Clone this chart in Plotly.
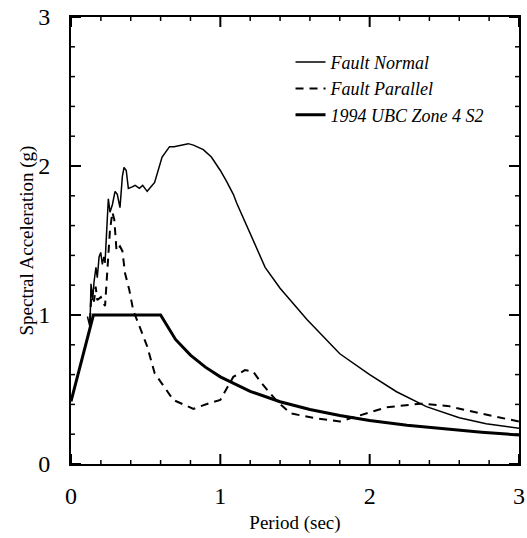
import plotly.graph_objects as go

# Fault Normal
fn_period = [0.11, 0.127, 0.134, 0.145, 0.154, 0.167, 0.176, 0.188, 0.199, 0.21, 0.22, 0.228,
             0.25, 0.261, 0.277, 0.295, 0.31, 0.328, 0.344, 0.355, 0.37, 0.384, 0.41, 0.43,
             0.458, 0.48, 0.51, 0.56, 0.61, 0.66, 0.69, 0.73, 0.785, 0.82, 0.886, 0.94, 1.0,
             1.04, 1.087, 1.11, 1.19, 1.3, 1.4, 1.58, 1.8, 2.0, 2.18, 2.38, 2.6, 2.78, 3.0]
fn_sa = [0.99, 0.92, 1.21, 1.10, 1.22, 1.32, 1.25, 1.39, 1.42, 1.34, 1.39, 1.35,
         1.78, 1.69, 1.74, 1.83, 1.81, 1.72, 1.93, 1.99, 1.97, 1.85, 1.86, 1.87,
         1.85, 1.87, 1.83, 1.89, 2.06, 2.13, 2.13, 2.14, 2.15, 2.14, 2.11, 2.06, 1.97,
         1.90, 1.81, 1.75, 1.57, 1.32, 1.18, 0.97, 0.74, 0.60, 0.485, 0.385, 0.31, 0.27, 0.24]

# Fault Parallel
fp_period = [0.127, 0.138, 0.154, 0.165, 0.176, 0.2, 0.228, 0.238, 0.261, 0.277, 0.29,
             0.305, 0.328, 0.344, 0.362, 0.39, 0.417, 0.46, 0.51, 0.56, 0.685, 0.82,
             0.93, 1.0, 1.087, 1.165, 1.22, 1.27, 1.38, 1.47, 1.62, 1.8, 1.94, 2.11,
             2.34, 2.52, 2.74, 3.0]
fp_sa = [0.96, 1.17, 1.09, 1.19, 1.10, 1.12, 1.06, 1.21, 1.57, 1.69, 1.64,
         1.43, 1.46, 1.43, 1.28, 1.17, 1.03, 0.92, 0.79, 0.61, 0.43, 0.37,
         0.41, 0.43, 0.585, 0.63, 0.62, 0.55, 0.42, 0.34, 0.31, 0.285, 0.33, 0.38,
         0.405, 0.39, 0.34, 0.285]

# 1994 UBC Zone 4 S2
ubc_period = [0.0, 0.15, 0.6, 0.7, 0.8, 0.9, 1.0, 1.2, 1.4, 1.6, 1.8, 2.0, 2.25, 2.5, 2.75, 3.0]
ubc_sa = [0.42, 1.0, 1.0, 0.836, 0.731, 0.65, 0.585, 0.4875, 0.418, 0.366, 0.325, 0.2925,
          0.26, 0.234, 0.213, 0.195]

# axis ticks (same for both axes)
major_ticks = [0, 1, 2, 3]
minor_ticks = [0.2, 0.4, 0.6, 0.8, 1.2, 1.4, 1.6, 1.8, 2.2, 2.4, 2.6, 2.8]
axis_range = [0, 3]

serif = "Liberation Serif"

fig = go.Figure()
fig.add_trace(go.Scatter(x=fn_period, y=fn_sa, mode="lines", name="<i>Fault Normal</i>",
                         line=dict(color="black", width=1.5)))
fig.add_trace(go.Scatter(x=fp_period, y=fp_sa, mode="lines", name="<i>Fault Parallel</i>",
                         line=dict(color="black", width=2, dash="8px,6px")))
fig.add_trace(go.Scatter(x=ubc_period, y=ubc_sa, mode="lines", name="<i>1994 UBC Zone 4 S2</i>",
                         line=dict(color="black", width=3)))

axis_common = dict(
    range=axis_range, tickmode="array", tickvals=major_ticks,
    ticktext=[str(v) for v in major_ticks],
    showgrid=False, zeroline=False, showline=True, linecolor="black", linewidth=2,
    mirror=True, ticks="",
    tickfont=dict(family=serif, size=24, color="black"),
    automargin=False,
)

# inward-pointing tick marks on all four sides, placed via the axes' own scales
def add_ticks(values, length, width):
    for v in values:
        for side in (0, 1):
            sign = 1 if side == 0 else -1
            # x-axis ticks (bottom / top)
            fig.add_shape(type="line", xref="x", yref="paper", ysizemode="pixel",
                          yanchor=side, x0=v, x1=v, y0=0, y1=sign * length,
                          line=dict(color="black", width=width), layer="above")
            # y-axis ticks (left / right)
            fig.add_shape(type="line", xref="paper", yref="y", xsizemode="pixel",
                          xanchor=side, y0=v, y1=v, x0=0, x1=sign * length,
                          line=dict(color="black", width=width), layer="above")

add_ticks(major_ticks, 10, 2)
add_ticks(minor_ticks, 4, 1.5)

fig.update_layout(
    width=527, height=538,
    margin=dict(l=71, r=8, t=17, b=74, autoexpand=False),
    paper_bgcolor="white", plot_bgcolor="white",
    showlegend=True,
    legend=dict(x=0.49, y=0.94, xanchor="left", yanchor="top",
                bgcolor="rgba(0,0,0,0)", borderwidth=0,
                font=dict(family=serif, size=18, color="black"),
                tracegroupgap=0, itemwidth=30),
    xaxis=dict(ticklabelstandoff=9,
               title=dict(text="Period (sec)", font=dict(family=serif, size=19, color="black"),
                          standoff=8),
               **axis_common),
    yaxis=dict(ticklabelstandoff=14,
               title=dict(text="Spectral Acceleration (g)",
                          font=dict(family=serif, size=19, color="black"), standoff=0),
               **axis_common),
)

fig.write_html("out.html")
